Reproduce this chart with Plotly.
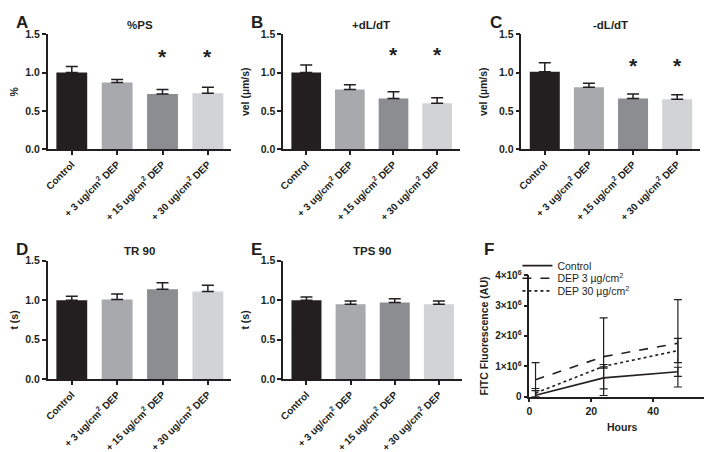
import plotly.graph_objects as go

W, H = 712, 452

categories = ["Control", "+ 3 ug/cm<sup>2</sup> DEP", "+ 15 ug/cm<sup>2</sup> DEP", "+ 30 ug/cm<sup>2</sup> DEP"]
bar_colors = ["#231f20", "#a7a9ac", "#8b8d90", "#d1d3d4"]

ps_vals = [1.00, 0.87, 0.72, 0.73]
ps_err = [0.08, 0.04, 0.06, 0.08]
pdl_vals = [1.00, 0.78, 0.66, 0.60]
pdl_err = [0.10, 0.06, 0.09, 0.07]
ndl_vals = [1.01, 0.81, 0.66, 0.65]
ndl_err = [0.12, 0.05, 0.06, 0.06]
tr_vals = [1.00, 1.01, 1.14, 1.11]
tr_err = [0.05, 0.07, 0.08, 0.08]
tps_vals = [1.00, 0.95, 0.97, 0.95]
tps_err = [0.04, 0.04, 0.05, 0.04]

sig = [False, False, True, True]
star_level = {"A": 1.09, "B": 1.12, "C": 0.97}

hours = [2, 24, 48]
ctrl_f = [0.05e6, 0.62e6, 0.82e6]
ctrl_f_err = [0.15e6, 0.36e6, 0.15e6]
dep3_f = [0.56e6, 1.32e6, 1.76e6]
dep3_f_err = [0.56e6, 1.28e6, 1.44e6]
dep30_f = [0.12e6, 1.0e6, 1.52e6]
dep30_f_err = [0.15e6, 0.06e6, 0.40e6]

FONT = "Liberation Sans, Arial, sans-serif"
INK = "#231f20"

def dx(a, b):
    return [a / W, b / W]

def dy(top, bottom):
    return [1 - bottom / H, 1 - top / H]

panels = [
    ("A", ps_vals, ps_err, "%PS", "%", dx(35, 220), dy(20, 138)),
    ("B", pdl_vals, pdl_err, "+dL/dT", "vel (µm/s)", dx(272, 450), dy(20, 138)),
    ("C", ndl_vals, ndl_err, "-dL/dT", "vel (µm/s)", dx(512, 692), dy(20, 138)),
    ("D", tr_vals, tr_err, "TR 90", "t (s)", dx(35, 220), dy(253, 375)),
    ("E", tps_vals, tps_err, "TPS 90", "t (s)", dx(272, 452), dy(253, 375)),
]

fig = go.Figure()
annotations = []
layout = {}

for i, (key, vals, err, title, ytitle, xdom, ydom) in enumerate(panels):
    n = i + 1
    xa = "x" if n == 1 else f"x{n}"
    ya = "y" if n == 1 else f"y{n}"
    fig.add_trace(go.Bar(
        x=list(range(len(categories))), y=vals, xaxis=xa, yaxis=ya,
        marker=dict(color=bar_colors, line=dict(width=0)),
        width=0.68,
        error_y=dict(type="data", symmetric=False, array=err, arrayminus=[0] * len(err),
                     color=INK, thickness=1.5, width=6),
        showlegend=False,
    ))
    xname = "xaxis" if n == 1 else f"xaxis{n}"
    yname = "yaxis" if n == 1 else f"yaxis{n}"
    layout[xname] = dict(
        domain=xdom, anchor=ya, range=[-0.53, 3.52],
        tickmode="array", tickvals=list(range(len(categories))), ticktext=categories,
        tickangle=-45, ticks="outside", ticklen=4, tickwidth=1.5, tickcolor=INK,
        showline=True, linecolor=INK, linewidth=1.5, showgrid=False, zeroline=False,
        tickfont=dict(family=FONT, size=10, color=INK, weight="bold"),
    )
    layout[yname] = dict(
        domain=ydom, anchor=xa, range=[0, 1.5],
        tickvals=[0, 0.5, 1.0, 1.5], tickformat=".1f",
        ticks="outside", ticklen=4, tickwidth=1.5, tickcolor=INK,
        showline=True, linecolor=INK, linewidth=1.5, showgrid=False, zeroline=False,
        tickfont=dict(family=FONT, size=10.5, color=INK, weight="bold"),
        title=dict(text=ytitle, standoff=9,
                   font=dict(family=FONT, size=10.5, color=INK, weight="bold")),
    )
    xc = (xdom[0] + xdom[1]) / 2
    annotations.append(dict(
        text=title, x=xc, y=ydom[1] + 10 / H, xref="paper", yref="paper",
        xanchor="center", yanchor="middle", showarrow=False,
        font=dict(family=FONT, size=11.5, color=INK, weight="bold"),
    ))
    annotations.append(dict(
        text=key, x=xdom[0] - 34 / W, y=ydom[1] + 12 / H, xref="paper", yref="paper",
        xanchor="left", yanchor="middle", showarrow=False,
        font=dict(family=FONT, size=17, color=INK, weight="bold"),
    ))
    if key in star_level:
        for j, s in enumerate(sig):
            if s:
                annotations.append(dict(
                    text="*", x=j, y=star_level[key], xref=xa, yref=ya,
                    xanchor="center", yanchor="middle", showarrow=False, yshift=9,
                    font=dict(family=FONT, size=21, color=INK, weight="bold"),
                ))

# Panel F
styles = [("Control", ctrl_f, ctrl_f_err, "solid", "legend", 264),
          ("DEP 3 µg/cm<sup>2</sup>", dep3_f, dep3_f_err, "dash", "legend2", 277),
          ("DEP 30 µg/cm<sup>2</sup>", dep30_f, dep30_f_err, "dot", "legend3", 290)]
for name, vals, err, dash, leg, ly in styles:
    fig.add_trace(go.Scatter(
        x=hours, y=vals, xaxis="x6", yaxis="y6", mode="lines", name=name, legend=leg,
        line=dict(color=INK, width=1.6, dash=dash),
        error_y=dict(type="data", array=err, color=INK, thickness=1.2, width=4),
    ))
    layout[leg] = dict(x=508 / W, y=1 - (ly - 6) / H, xanchor="left", yanchor="middle",
                       bgcolor="rgba(0,0,0,0)", itemwidth=30,
                       font=dict(family=FONT, size=10.5, color=INK))

fxdom = dx(520, 707)
fydom = dy(268, 393)
layout["xaxis6"] = dict(
    domain=fxdom, anchor="y6", range=[0, 60], tickvals=[0, 20, 40, 60],
    ticks="outside", ticklen=4, tickwidth=1.5, tickcolor=INK,
    showline=True, linecolor=INK, linewidth=1.5, showgrid=False, zeroline=False,
    tickfont=dict(family=FONT, size=10.5, color=INK, weight="bold"),
    title=dict(text="Hours", standoff=8, font=dict(family=FONT, size=10.5, color=INK, weight="bold")),
)
ytick_f = [0, 1e6, 2e6, 3e6, 4e6]
ytick_f_text = ["0", "1×10<sup>6</sup>", "2×10<sup>6</sup>", "3×10<sup>6</sup>", "4×10<sup>6</sup>"]
layout["yaxis6"] = dict(
    domain=fydom, anchor="x6", range=[0, 4e6], tickvals=ytick_f, ticktext=ytick_f_text,
    ticks="outside", ticklen=4, tickwidth=1.5, tickcolor=INK,
    showline=True, linecolor=INK, linewidth=1.5, showgrid=False, zeroline=False,
    tickfont=dict(family=FONT, size=10, color=INK, weight="bold"),
    title=dict(text="FITC Fluorescence (AU)", standoff=4,
               font=dict(family=FONT, size=10.5, color=INK, weight="bold")),
)
annotations.append(dict(
    text="F", x=472 / W, y=1 - 241 / H, xref="paper", yref="paper",
    xanchor="left", yanchor="middle", showarrow=False,
    font=dict(family=FONT, size=17, color=INK, weight="bold"),
))

fig.update_layout(
    width=W, height=H, margin=dict(l=0, r=0, t=0, b=0),
    plot_bgcolor="white", paper_bgcolor="white",
    annotations=annotations,
    **layout,
)

fig.write_html("out.html")
